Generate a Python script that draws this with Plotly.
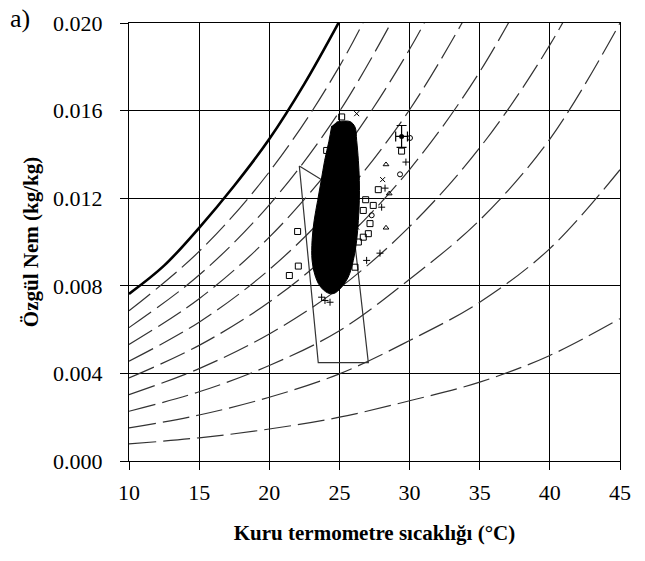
import plotly.graph_objects as go

# ---------------- data ----------------
temps = [10, 15, 20, 25, 30, 35, 40, 45]
# saturation humidity ratio (kg/kg)
sat_T = [10, 12.5, 15, 17.5, 20, 22.5, 25]
sat_w = [0.00763, 0.00892, 0.01065, 0.01257, 0.01470, 0.01722, 0.02008]
# relative humidity curves (kg/kg) read at temps
rh_curves = {
    90: [0.00686, 0.00957, 0.01320, 0.01802, 0.02438],
    80: [0.00609, 0.00849, 0.01170, 0.01596, 0.02158],
    70: [0.00532, 0.00741, 0.01022, 0.01392, 0.01880, 0.02500],
    60: [0.00456, 0.00634, 0.00874, 0.01190, 0.01604, 0.02144],
    50: [0.00379, 0.00528, 0.00726, 0.00988, 0.01331, 0.01777, 0.02352],
    40: [0.00303, 0.00422, 0.00580, 0.00790, 0.01070, 0.01430, 0.01900, 0.02500],
    30: [0.00227, 0.00316, 0.00436, 0.00595, 0.00830, 0.01100, 0.01470, 0.02000],
    20: [0.00151, 0.00210, 0.00291, 0.00398, 0.00550, 0.00725, 0.00970, 0.01330],
    10: [0.00078, 0.00106, 0.00146, 0.00200, 0.00275, 0.00360, 0.00482, 0.00650],
}
# comfort zone polygon
zone_T = [22.14, 25.73, 27.06, 23.49, 22.14]
zone_w = [0.01347, 0.01205, 0.00449, 0.00449, 0.01347]
# outline of dense cloud of measurements
cloud_T = [24.80, 25.75, 26.11, 26.23, 26.35, 26.42, 26.42, 26.35, 26.23, 25.99, 25.63,
           25.10, 24.60, 24.15, 23.60, 23.25, 23.05, 23.05, 23.20, 23.45, 23.70, 23.95, 24.25, 24.45]
cloud_w = [0.01548, 0.01550, 0.01525, 0.01464, 0.01373, 0.01281, 0.01190, 0.01099, 0.01007,
           0.00916, 0.00840, 0.00790, 0.00765, 0.00768, 0.00800, 0.00850, 0.00916, 0.01007,
           0.01099, 0.01190, 0.01281, 0.01373, 0.01460, 0.01530]
# scattered outliers
sq_T = [25.16, 22.02, 22.07, 21.43, 27.77, 26.87, 26.70, 27.41, 27.18, 27.06, 26.70, 26.35, 26.11, 29.43, 24.09]
sq_w = [0.01571, 0.01048, 0.00890, 0.00847, 0.01239, 0.01193, 0.01144, 0.01167, 0.01084, 0.01038,
        0.01022, 0.01000, 0.00885, 0.01415, 0.01418]
tri_T = [28.32, 28.55, 28.32]
tri_w = [0.01354, 0.01221, 0.01065]
x_T = [26.23, 28.08, 26.23]
x_w = [0.01586, 0.01285, 0.01068]
plus_T = [29.74, 28.25, 28.01, 27.89, 26.94, 23.97, 24.33, 23.73]
plus_w = [0.01365, 0.01246, 0.01159, 0.00949, 0.00916, 0.00733, 0.00725, 0.00748]
circ_T = [29.32, 27.30, 30.03]
circ_w = [0.01309, 0.01122, 0.01475]
# mean with error bars
mean_T = [29.43]
mean_w = [0.01482]
err_T = [0.42]
err_w = [0.00050]

x_ticks = [10, 15, 20, 25, 30, 35, 40, 45]
y_ticks = [0.000, 0.004, 0.008, 0.012, 0.016, 0.020]

# ---------------- figure ----------------
fig = go.Figure()

for rh, ws in rh_curves.items():
    fig.add_trace(go.Scatter(x=temps[:len(ws)], y=ws, mode="lines",
                             line=dict(color="#333333", width=1.2, dash="27px,7px", shape="spline"),
                             hoverinfo="skip", showlegend=False))

fig.add_trace(go.Scatter(x=sat_T, y=sat_w, mode="lines",
                         line=dict(color="black", width=2.6, shape="spline"), showlegend=False))

fig.add_trace(go.Scatter(x=zone_T, y=zone_w, mode="lines",
                         line=dict(color="#333333", width=1.2), showlegend=False))

fig.add_trace(go.Scatter(x=cloud_T, y=cloud_w, mode="lines", fill="toself", fillcolor="black",
                         line=dict(color="black", width=1, shape="spline"), showlegend=False))

mk = dict(color="black", line=dict(color="black", width=1))
fig.add_trace(go.Scatter(x=sq_T, y=sq_w, mode="markers", showlegend=False,
                         marker=dict(symbol="square-open", size=6, **mk)))
fig.add_trace(go.Scatter(x=tri_T, y=tri_w, mode="markers", showlegend=False,
                         marker=dict(symbol="triangle-up-open", size=5, **mk)))
fig.add_trace(go.Scatter(x=x_T, y=x_w, mode="markers", showlegend=False,
                         marker=dict(symbol="x-thin-open", size=5, **mk)))
fig.add_trace(go.Scatter(x=plus_T, y=plus_w, mode="markers", showlegend=False,
                         marker=dict(symbol="cross-thin-open", size=5, **mk)))
fig.add_trace(go.Scatter(x=circ_T, y=circ_w, mode="markers", showlegend=False,
                         marker=dict(symbol="circle-open", size=5, **mk)))
fig.add_trace(go.Scatter(x=mean_T, y=mean_w, mode="markers", showlegend=False,
                         marker=dict(symbol="circle", size=5, color="black"),
                         error_x=dict(type="data", array=err_T, color="black", thickness=1.2, width=5),
                         error_y=dict(type="data", array=err_w, color="black", thickness=1.2, width=5)))

serif = "Liberation Serif"
L, R, T, B = 129, 25, 23, 100
W, H = 645, 561
fig.update_layout(
    width=W, height=H,
    margin=dict(l=L, r=R, t=T, b=B),
    paper_bgcolor="white", plot_bgcolor="white",
    font=dict(family=serif, color="black", size=22),
    xaxis=dict(range=[10, 45], tickvals=x_ticks, ticktext=[str(v) for v in x_ticks],
               showgrid=True, gridcolor="black", gridwidth=1, zeroline=False,
               showline=True, linecolor="black", linewidth=1, mirror=True,
               ticks="outside", ticklen=8, tickcolor="black", ticklabelstandoff=4,
               title=dict(text="<b>Kuru termometre sıcaklığı (°C)</b>", font=dict(size=21), standoff=20)),
    yaxis=dict(range=[0, 0.020], tickvals=y_ticks, ticktext=[f"{v:.3f}" for v in y_ticks],
               showgrid=True, gridcolor="black", gridwidth=1, zeroline=False,
               showline=True, linecolor="black", linewidth=1, mirror=True,
               ticks="outside", ticklen=8, tickcolor="black", ticklabelstandoff=13,
               title=dict(text="<b>Özgül Nem (kg/kg)</b>", font=dict(size=21), standoff=8)),
    annotations=[dict(text="a)", x=(20 - L) / (W - L - R), y=1 + (T - 18) / (H - T - B),
                      xref="paper", yref="paper", showarrow=False,
                      xanchor="center", yanchor="middle",
                      font=dict(size=26, family=serif))],
)

fig.write_html("out.html")
